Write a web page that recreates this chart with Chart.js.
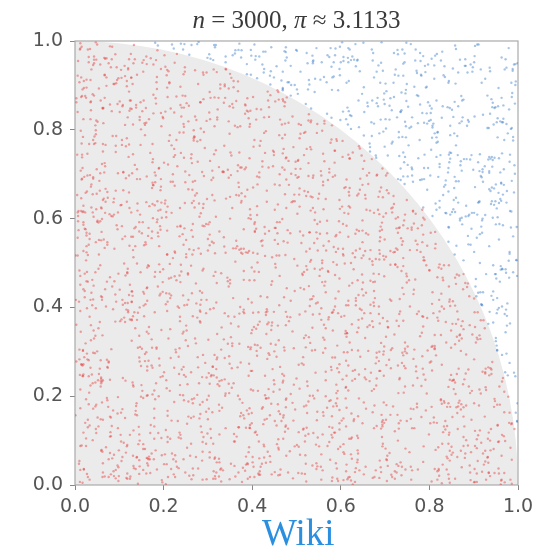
<!DOCTYPE html>
<html>
<head>
<meta charset="utf-8">
<script src="https://cdn.jsdelivr.net/npm/chart.js@4"></script>
<style>
  body { margin: 0; background: #fff; }
  .wrap { position: relative; width: 556px; height: 551px; }
  .wiki {
    position: absolute; left: 262px; top: 514px;
    font-family: "Liberation Serif", "DejaVu Serif", serif;
    font-size: 37px; line-height: 1; color: #2b8fe0;
  }
</style>
</head>
<body>
<div class="wrap">
  <canvas id="piChart" width="556" height="551"></canvas>
  <div class="wiki">Wiki</div>
</div>
<script>
// title values
const sampleCount = 3000;
const piEstimate = "3.1133";
const tickValues = [0, 0.2, 0.4, 0.6, 0.8, 1.0];

// sample positions (per mille). The 3000 single dots cannot be read one by one
// from the picture, so this is a hand-typed stand-in sample of the same size.
const xs = [
512,87,934,271,648,15,779,403,166,857,322,590,41,726,983,238,469,695,118,807,354,621,9,942,283,537,764,190,436,871,62,315,588,731,149,996,407,262,673,828,23,559,381,914,130,747,486,205,662,399,
873,146,508,27,791,364,639,952,218,475,704,83,326,869,587,11,440,760,195,931,652,300,527,68,816,273,999,414,141,689,555,238,917,36,479,722,167,803,392,608,954,247,71,535,680,124,846,361,593,19,
702,258,944,131,415,679,3,566,823,288,156,739,497,901,345,61,613,878,212,450,987,174,527,305,768,92,634,419,849,240,577,6,712,963,186,331,498,654,79,807,425,270,936,551,113,688,374,842,29,619,
248,905,473,60,736,391,152,858,604,17,520,783,341,969,226,681,438,97,812,535,276,48,749,398,625,910,165,507,872,234,13,657,444,789,312,581,946,107,395,728,253,86,620,463,898,179,541,816,35,702,
961,137,423,675,310,54,838,582,219,744,494,1,367,629,903,180,456,771,27,643,320,882,519,101,698,245,957,411,66,791,558,283,145,867,605,338,19,729,472,916,204,641,377,92,805,536,264,988,159,693,
431,778,56,314,862,597,199,715,468,32,950,278,584,820,113,409,675,249,991,155,523,782,363,70,637,897,214,453,844,127,566,301,748,45,939,485,187,620,356,810,26,695,431,262,901,576,140,728,392,653,
89,524,843,217,670,386,925,168,449,733,12,597,291,809,142,366,954,501,76,688,239,851,413,617,5,772,334,926,190,560,82,703,438,256,979,118,647,371,893,24,525,766,207,434,968,96,612,345,830,158,
582,275,730,48,913,405,126,667,359,892,542,14,786,229,617,460,969,104,338,756,592,41,872,283,675,181,507,945,63,425,807,251,632,117,386,998,571,223,745,39,480,859,306,614,143,960,279,517,797,88,
376,641,985,124,496,759,217,868,31,553,304,690,431,926,79,648,262,818,507,162,741,348,18,890,574,203,469,785,132,962,314,608,7,731,442,877,241,533,689,98,812,370,154,947,415,666,290,51,579,933,
170,803,467,23,651,289,918,547,108,394,764,236,975,600,53,459,722,315,871,166,625,994,39,708,273,533,855,410,120,688,340,963,502,227,784,63,617,362,907,191,476,746,14,580,834,257,402,697,135,921,
658,37,288,884,521,155,738,399,970,67,611,244,846,493,119,357,681,913,203,566,780,29,445,652,321,937,175,509,862,94,274,727,382,597,17,839,469,206,950,548,106,674,331,883,239,712,433,59,816,590,
204,946,558,79,703,352,915,141,487,632,12,804,271,559,986,116,423,763,246,690,50,388,875,520,174,737,297,944,463,85,639,350,818,211,592,31,761,459,905,146,676,384,17,528,869,224,651,305,983,113,
745,321,592,186,830,43,472,695,263,957,128,541,384,890,74,617,209,793,437,655,25,912,358,180,579,844,236,706,494,3,633,281,925,152,758,414,63,860,522,291,968,187,614,441,99,735,317,882,560,208,
429,877,15,640,262,981,507,133,716,394,852,56,297,611,769,182,469,933,103,349,590,828,41,672,258,515,899,146,735,371,963,214,489,800,11,627,338,909,167,552,702,276,459,1,845,380,617,935,124,686,
93,548,811,370,152,679,943,222,461,728,38,586,313,871,496,157,964,402,633,80,756,277,522,896,183,440,705,19,618,985,350,109,764,545,238,847,432,67,670,311,910,140,574,792,252,476,991,33,725,398,
617,183,453,919,67,738,290,521,847,131,406,957,244,682,20,569,823,338,105,712,480,256,941,620,59,381,790,173,544,873,316,627,84,455,968,232,761,397,127,606,853,43,509,282,695,934,161,428,770,57,
296,704,972,118,532,360,814,57,693,249,444,887,175,606,362,989,92,529,775,215,668,28,417,821,158,583,304,947,476,71,730,199,623,860,386,10,675,541,903,266,124,780,429,956,330,591,19,845,213,662,
855,46,362,597,783,215,504,940,89,671,317,751,12,487,840,284,621,166,910,394,54,735,572,208,986,449,115,692,340,819,573,237,903,42,458,691,145,788,315,964,504,69,630,219,877,397,741,175,526,96,
533,269,819,161,427,997,31,656,388,873,224,548,931,111,705,443,276,817,590,2,373,969,138,644,281,862,515,76,783,419,194,945,322,657,26,562,894,245,737,469,108,619,957,352,189,820,440,673,31,908,
130,760,408,681,25,566,829,197,474,740,359,37,617,901,262,548,713,94,382,962,183,495,828,63,603,336,759,151,928,513,268,693,7,860,412,125,583,974,296,724,47,455,876,208,613,321,989,154,705,437,
728,389,88,953,613,270,131,787,596,17,936,432,284,664,818,51,508,193,889,347,617,741,120,466,245,993,571,79,710,318,855,402,161,632,907,28,530,749,368,204,971,460,693,115,818,538,279,953,65,384,
47,615,926,336,180,858,472,703,213,40,597,353,971,149,760,424,881,66,555,236,797,326,649,5,481,901,158,745,282,630,984,115,367,805,528,214,655,87,919,400,747,19,581,246,867,147,496,732,304,998,
565,201,754,476,98,643,22,912,305,826,688,181,417,537,8,730,266,975,389,125,844,502,607,303,73,681,433,226,954,140,574,835,344,21,784,617,251,499,145,888,367,62,720,570,935,283,19,647,821,175,
843,316,67,721,396,977,248,545,116,447,794,64,636,330,937,192,563,802,28,412,673,154,920,264,788,547,36,860,406,190,712,477,59,943,285,596,138,823,478,320,685,208,958,72,430,858,545,121,766,256,
304,915,586,184,831,412,109,701,863,243,530,974,369,19,749,476,126,649,931,282,505,59,821,375,687,994,132,574,225,801,426,73,699,948,316,151,606,885,240,462,786,34,517,694,97,355,989,613,408,41,
679,140,455,901,266,36,625,345,758,514,93,881,191,429,670,318,974,556,238,82,733,457,188,626,907,47,347,812,561,209,976,420,146,666,328,779,6,540,866,119,686,297,843,455,232,781,12,641,909,350,
128,859,309,619,52,774,427,950,171,655,310,561,26,795,880,145,462,697,351,988,59,606,225,901,473,128,745,386,29,672,263,858,501,123,928,405,731,176,638,991,264,437,846,58,530,749,194,401,959,510,
411,702,161,46,948,598,266,813,379,16,706,245,843,476,108,620,932,393,177,515,833,44,286,660,745,137,927,368,582,809,27,474,253,944,699,184,385,572,76,831,657,304,117,916,460,239,588,998,135,787,
956,24,532,773,349,209,865,105,483,643,926,297,566,81,384,828,239,609,36,763,441,916,193,558,336,877,89,615,487,226,715,978,341,48,594,237,816,411,952,97,720,544,178,854,301,69,624,471,918,217,
687,468,237,829,584,129,418,681,994,325,147,772,457,903,234,547,61,717,350,951,602,22,474,131,853,290,687,531,961,8,410,744,154,625,271,877,492,33,741,198,591,963,369,807,627,117,458,763,40,577,
175,638,893,55,319,718,960,451,18,587,375,833,122,672,296,940,488,206,792,109,391,653,822,273,546,47,903,163,786,420,325,594,59,858,439,176,985,626,304,741,15,521,868,246,397,942,130,694,284,856,
833,357,10,594,753,231,560,869,144,696,235,500,980,419,61,758,371,136,605,887,264,530,72,964,429,795,201,618,338,105,739,495,922,271,830,54,652,113,423,794,566,280,986,91,716,347,531,173,850,406,
22,710,466,185,926,376,648,84,802,347,953,6,639,289,812,549,107,405,920,194,726,473,340,815,118,655,938,373,12,520,851,210,397,675,954,166,306,879,531,81,641,446,210,964,6,368,803,612,248,483,
599,283,981,378,132,507,40,745,263,904,491,182,671,863,304,33,594,880,251,742,419,163,982,585,42,313,697,877,148,563,231,789,63,449,917,298,598,729,48,876,394,164,557,731,280,887,53,665,451,131,
769,127,437,818,243,683,307,964,554,19,726,396,132,825,487,667,221,910,71,445,618,995,123,364,801,509,255,692,60,937,431,146,770,370,613,26,846,216,491,962,104,651,381,794,162,527,914,207,741,388,
246,895,57,618,950,88,772,209,437,850,122,634,954,251,579,43,784,330,492,675,189,758,563,315,16,891,208,481,745,974,358,114,666,245,860,451,595,127,729,320,13,695,843,587,27,404,689,955,177,612,
540,313,701,464,173,371,823,598,75,995,373,269,85,713,405,866,605,182,939,26,523,346,78,681,843,422,196,605,287,837,523,65,984,552,187,696,34,933,288,567,841,237,451,83,772,337,938,124,517,84,
920,167,392,3,834,546,218,29,706,311,561,805,469,139,966,27,326,741,643,260,806,137,902,470,748,33,560,921,390,160,677,258,858,33,406,816,288,502,972,184,629,448,989,70,597,858,180,442,779,325,
63,601,887,256,691,935,443,154,847,482,42,920,228,604,330,752,195,531,856,402,112,649,230,913,594,170,812,445,68,743,612,294,503,741,61,355,626,113,892,743,376,519,67,926,208,656,303,49,969,643,
349,751,524,148,462,72,637,986,268,641,782,163,516,40,897,433,687,288,92,584,975,383,743,40,326,949,686,99,527,889,13,471,221,786,411,938,245,687,20,443,163,817,620,300,789,516,101,726,865,14,
812,79,278,907,598,340,119,872,375,202,579,958,313,737,158,50,813,952,429,701,299,844,517,56,634,117,245,828,580,350,960,164,634,919,265,518,97,806,674,173,993,289,553,917,148,41,832,409,216,536,
193,957,483,32,680,823,224,536,761,12,348,669,840,98,488,611,266,107,775,146,537,18,687,380,805,255,416,729,139,486,847,742,224,53,697,395,964,122,468,716,352,81,649,229,986,462,751,591,153,300,
476,536,714,390,241,113,981,416,62,787,506,102,427,873,313,919,388,556,35,865,238,687,907,461,128,570,354,964,74,290,632,381,15,871,509,181,838,308,589,875,24,714,391,538,132,814,378,966,688,238,
723,201,846,634,952,435,69,657,297,940,175,839,690,234,563,25,711,468,196,638,397,87,324,826,560,761,25,449,918,169,702,86,569,450,315,799,537,235,739,29,459,972,268,147,698,16,578,107,393,827,
37,403,156,786,17,652,320,895,543,226,611,50,412,949,773,209,982,145,837,477,749,162,529,198,992,353,637,886,216,542,416,893,131,665,25,941,177,650,428,997,114,670,247,810,423,901,287,623,46,471,
888,623,288,475,836,174,574,799,104,456,877,340,16,638,98,587,349,671,252,19,938,505,47,667,274,861,145,313,505,849,255,967,372,589,128,722,328,58,873,212,556,395,844,604,61,312,722,865,254,946,
268,973,547,120,339,702,933,20,478,698,265,732,533,179,902,282,458,58,613,811,360,131,774,411,735,93,797,470,665,29,613,142,779,909,477,278,43,461,981,320,787,140,505,967,352,186,528,12,749,103,
589,49,827,694,215,395,623,358,883,161,947,35,394,823,443,661,826,162,906,435,696,236,581,935,321,475,999,221,41,746,438,185,831,287,684,527,196,921,660,451,154,846,73,729,469,634,970,376,612,452,
140,735,392,19,908,841,142,511,650,46,580,247,970,698,117,319,6,738,373,538,51,902,244,854,68,623,316,122,852,624,79,584,14,694,228,843,375,747,110,537,896,250,623,355,21,847,122,290,864,188,
950,328,165,522,763,268,59,768,230,849,401,123,806,361,569,883,213,980,520,271,786,447,163,720,375,198,542,709,268,399,947,333,512,136,874,61,491,943,225,617,326,46,765,198,914,493,796,67,426,782,
406,844,676,298,122,562,955,399,7,710,293,662,53,498,737,134,434,804,73,667,158,364,606,9,895,639,941,10,568,179,746,874,253,606,959,133,744,18,409,677,480,980,36,434,684,558,207,717,35,606,
92,185,478,869,581,11,688,176,937,587,826,474,193,935,23,610,877,405,190,956,528,833,284,476,128,820,427,276,784,498,83,637,452,181,786,402,573,902,347,64,734,206,891,579,150,369,954,532,302,888,
714,599,35,735,393,805,312,849,118,431,35,765,283,642,847,369,551,237,640,336,106,17,962,755,392,43,703,587,193,934,310,229,966,795,57,365,685,277,565,788,171,640,845,266,977,88,627,249,751,155,
325,966,223,415,63,648,462,26,581,986,640,205,902,156,422,739,101,883,451,722,851,608,134,553,885,267,140,503,866,62,637,458,814,105,522,870,206,12,940,463,813,337,597,10,538,719,449,868,76,517,
560,76,761,973,195,925,145,724,308,659,258,577,355,741,60,979,312,526,913,43,389,299,772,225,48,691,521,319,649,357,892,162,396,707,236,615,982,441,179,822,223,473,95,704,417,192,854,302,644,927,
31,882,537,296,843,390,699,501,865,159,921,96,800,433,302,558,686,81,205,608,731,482,928,58,397,776,836,195,923,587,26,766,672,339,58,916,287,719,653,31,957,547,369,833,120,961,326,603,194,371,
857,416,111,612,732,20,256,944,47,395,723,496,54,863,569,188,861,250,460,965,574,10,411,679,522,128,283,981,46,729,211,477,136,853,545,400,106,843,474,246,616,748,167,935,292,556,15,719,470,844,
470,209,696,41,907,563,477,170,691,807,163,620,243,992,12,423,932,675,340,162,795,249,846,588,177,914,63,434,769,361,942,580,318,73,698,463,836,209,525,381,879,129,505,755,405,79,640,160,934,91,
185,733,863,332,524,149,881,632,386,96,864,334,517,179,746,647,37,772,107,592,453,911,91,306,731,413,616,860,218,665,3,427,836,591,165,774,14,556,953,138,681,22,857,307,68,784,368,580,263,691
];
const ys = [
274,903,118,652,441,987,335,762,58,519,846,207,693,370,12,584,931,146,477,809,263,625,48,717,390,954,171,538,866,302,75,641,420,783,199,507,958,93,356,827,614,33,482,745,231,890,567,124,678,411,
819,42,571,296,930,653,106,387,765,518,9,842,234,600,473,981,157,715,349,62,896,528,188,441,783,319,950,26,634,257,707,113,582,864,379,14,493,822,246,669,135,578,918,303,737,451,55,972,212,616,
147,698,366,812,23,509,871,255,640,97,431,784,170,952,318,599,46,734,465,227,883,571,115,396,956,663,38,309,748,481,191,840,527,66,979,355,712,242,468,805,137,625,390,87,921,549,276,704,18,449,
635,321,977,79,556,841,212,467,739,5,391,688,936,164,523,287,851,614,36,419,774,181,903,342,59,636,495,217,876,107,708,433,24,598,957,287,668,171,813,530,84,396,735,266,941,151,487,620,862,334,
485,36,729,403,164,893,612,348,71,952,226,517,806,144,671,389,92,933,480,758,283,605,25,864,140,541,399,695,962,237,457,777,56,325,588,898,118,689,423,206,841,572,7,764,311,648,193,937,407,108,
50,777,262,991,334,125,486,844,599,208,677,37,920,370,560,823,128,706,253,404,973,153,533,85,652,339,788,490,14,917,200,587,865,297,633,76,447,736,968,141,524,376,797,254,613,57,924,491,160,730,
903,162,548,427,786,64,353,628,918,241,471,139,696,814,3,538,395,978,276,661,105,845,212,559,744,385,33,915,497,164,606,270,829,417,984,90,742,318,541,658,223,897,47,391,711,576,132,459,853,295,
389,657,43,821,215,588,971,406,115,733,304,874,52,461,611,166,777,935,286,529,14,690,358,862,437,193,627,81,751,976,313,552,239,898,129,471,687,24,818,405,574,205,960,342,92,704,533,177,947,609,
715,249,906,373,639,12,467,190,952,566,74,823,389,608,237,881,494,31,668,345,922,207,784,425,97,634,869,262,513,10,745,381,606,139,932,475,260,821,558,40,306,671,931,194,480,751,108,595,827,363,
27,568,812,140,996,293,693,555,241,807,430,118,662,952,353,22,525,808,170,579,304,901,462,657,63,756,216,847,389,521,952,12,692,305,838,147,415,979,557,269,736,82,617,388,185,854,523,301,959,71,
620,433,75,734,310,866,541,162,385,923,671,202,5,761,487,850,298,639,69,434,955,147,513,787,340,20,681,931,250,585,409,828,150,465,714,35,892,603,324,107,777,476,236,629,994,158,396,551,866,226,
942,176,506,857,58,698,329,618,877,29,451,278,934,114,685,395,551,224,807,40,593,948,369,111,669,844,242,495,23,786,155,649,377,932,263,541,711,103,464,829,18,650,269,912,596,187,427,730,84,367,
301,823,195,639,467,965,246,93,574,736,413,885,32,609,264,952,167,495,715,331,88,637,910,469,259,580,794,43,308,862,566,150,718,951,41,389,236,647,493,795,110,568,342,902,78,687,480,251,746,519,
516,88,688,372,151,521,781,991,308,461,153,663,820,347,550,78,894,265,630,13,779,402,172,956,531,288,710,100,841,386,963,212,637,484,7,749,902,328,64,471,612,203,885,157,727,390,984,538,113,279,
786,411,945,130,842,274,602,58,405,980,249,726,545,77,437,815,293,670,993,119,402,728,526,212,859,65,369,592,910,137,454,704,284,36,856,609,195,534,981,267,433,63,712,895,348,175,659,12,533,967,
213,957,316,596,725,41,869,337,788,225,572,98,427,699,910,174,625,387,54,871,546,188,739,18,625,462,944,328,91,708,522,257,987,134,676,402,828,215,559,955,73,330,791,437,648,27,816,581,256,702,
93,664,486,26,817,379,543,947,142,682,359,822,264,150,503,784,34,569,876,421,253,697,31,490,811,177,592,737,360,961,207,826,69,453,715,283,918,597,122,380,866,525,202,658,8,775,441,118,907,564,
642,336,19,937,585,104,732,250,459,866,14,578,392,944,176,612,833,280,727,129,519,840,373,935,57,236,691,158,523,795,378,624,88,449,182,951,571,714,293,817,27,667,148,992,506,257,370,633,891,44,
848,195,773,299,62,506,182,645,925,330,757,213,877,499,66,349,993,140,563,417,715,27,856,289,604,474,125,950,343,41,689,812,227,567,913,361,74,794,482,231,856,104,635,364,713,85,922,457,281,609,
426,575,120,697,872,236,976,6,789,549,98,677,405,184,736,528,263,941,387,640,229,509,183,642,997,328,807,567,12,476,154,591,955,363,677,19,502,813,165,600,398,943,227,519,174,828,560,34,702,297,
158,871,645,421,334,784,529,87,254,615,940,340,132,703,468,818,68,575,222,893,17,749,393,911,266,701,482,72,854,604,237,388,965,513,26,746,201,456,887,641,99,326,575,763,12,425,998,304,645,836,
997,299,53,558,704,14,310,887,431,101,642,917,254,801,580,175,455,704,41,308,862,571,139,653,28,420,788,222,369,958,580,73,707,176,835,498,653,31,405,257,783,527,918,191,472,689,87,385,564,143,
308,726,461,192,916,665,423,179,824,338,55,480,764,201,617,922,37,381,665,848,113,494,299,970,547,240,663,18,826,372,131,919,467,288,620,744,359,980,114,542,265,849,633,88,707,160,824,511,33,727,
581,62,872,339,608,247,931,569,16,753,206,849,575,305,932,480,729,139,283,521,973,81,705,432,816,165,360,982,592,285,496,66,239,861,417,594,178,723,963,51,649,392,222,458,976,615,49,739,305,154,
62,434,753,907,119,501,664,82,391,877,532,296,28,629,144,390,866,547,804,181,694,425,36,532,257,948,123,704,470,854,91,660,553,189,986,307,74,446,830,215,564,982,331,136,702,858,479,246,966,418,
742,157,289,6,683,844,362,710,149,473,905,71,427,748,212,991,636,69,457,306,580,889,618,235,103,799,447,338,621,97,409,846,278,761,35,687,922,545,262,828,385,13,661,517,144,924,215,763,389,600,
371,904,548,652,236,35,793,475,961,261,708,156,895,539,61,336,592,186,749,933,242,11,674,525,853,373,609,46,981,164,745,317,891,624,214,481,127,601,78,947,725,196,418,866,569,297,672,51,458,811,
113,697,26,810,475,923,184,570,39,690,356,813,221,975,406,669,104,273,947,562,397,785,119,861,321,581,220,909,694,387,25,862,138,436,762,310,855,480,18,653,238,540,910,371,80,496,983,144,721,249,
894,319,618,241,791,156,636,373,907,532,77,417,644,110,857,4,748,499,326,683,52,936,243,488,705,175,532,850,415,67,769,199,645,958,532,225,739,291,817,128,973,409,58,621,327,766,161,549,906,36,
529,781,379,93,952,436,23,860,245,716,311,928,567,356,38,813,186,625,926,465,145,577,814,66,938,633,300,761,1,574,302,972,435,107,685,868,15,379,695,245,496,872,130,434,1,781,359,618,229,984,
204,57,947,685,411,177,819,579,302,118,963,495,767,16,588,260,901,432,168,705,311,840,21,454,793,126,989,258,625,549,181,889,77,404,293,734,616,965,228,493,769,48,337,850,599,277,903,132,521,792,
672,533,305,9,765,582,298,958,131,604,399,240,846,425,723,172,994,353,532,89,635,403,196,747,566,376,47,842,238,917,444,654,371,830,46,552,186,410,717,897,353,634,139,970,18,692,418,556,86,316,
437,823,144,892,251,979,474,60,697,819,181,557,71,929,308,645,417,777,255,838,47,710,965,292,14,527,662,401,88,795,615,18,924,216,603,341,872,132,503,24,806,261,722,487,614,201,838,405,941,676,
86,366,728,521,43,384,655,739,13,447,830,697,369,162,885,566,81,944,513,208,775,490,364,118,604,936,246,154,862,327,718,506,49,743,407,192,987,269,621,441,736,60,952,579,229,454,132,769,29,559,
981,614,216,794,341,872,106,233,913,586,28,306,950,743,205,460,683,112,899,366,628,163,843,550,276,712,474,997,570,100,383,822,267,652,906,538,77,848,346,681,163,517,395,837,61,725,500,923,292,168,
737,147,495,660,587,20,529,874,366,68,697,421,134,520,778,950,290,37,639,814,200,993,449,59,738,360,895,127,307,940,229,472,618,58,765,144,436,918,603,242,798,933,24,287,661,356,906,97,675,824,
195,471,904,35,269,749,391,622,176,909,155,785,605,304,18,684,520,871,126,459,757,380,610,931,184,48,602,841,433,686,129,553,802,385,990,294,698,50,187,528,851,369,620,133,878,537,263,14,793,447,
600,824,74,361,943,146,613,458,742,266,539,8,889,184,654,398,223,585,932,66,408,167,830,235,996,554,332,683,14,849,421,969,231,134,570,771,12,611,959,307,486,210,776,402,169,990,630,318,857,59,
28,379,561,819,127,703,986,92,403,816,348,711,53,775,477,852,106,320,669,213,944,573,41,707,387,117,792,459,960,596,31,275,881,511,233,624,455,811,28,727,640,98,924,254,573,41,839,711,210,397,
853,695,233,479,675,282,51,804,529,195,922,445,271,614,931,149,792,483,15,536,359,711,268,880,114,639,475,20,696,818,345,157,700,379,916,78,345,508,894,183,415,971,321,554,744,127,440,578,929,272,
313,109,903,7,569,937,410,182,636,968,113,588,398,884,81,301,967,623,246,824,116,495,743,367,528,87,925,271,810,462,644,202,943,30,519,662,198,782,411,71,859,624,485,95,766,298,923,352,683,44,
664,553,369,768,224,497,839,354,697,34,290,817,133,476,701,219,559,63,736,400,950,245,610,157,848,313,693,568,62,378,809,430,264,591,868,128,402,959,250,614,333,152,676,875,3,471,721,37,592,148,
134,967,623,47,850,151,275,704,18,513,654,369,937,40,247,568,843,398,912,177,582,16,332,788,436,968,219,113,647,924,259,532,89,729,444,996,321,687,184,828,576,23,419,956,222,634,185,817,364,897,
497,254,749,415,314,886,638,172,929,426,768,64,582,289,820,193,418,715,67,958,310,637,872,193,675,33,506,750,406,58,803,168,567,301,873,114,624,250,981,518,84,344,799,609,470,876,266,554,85,431,
936,41,380,602,891,24,455,577,253,743,195,992,315,851,542,108,744,25,367,624,470,201,902,457,126,742,344,929,286,614,965,11,745,360,105,670,837,456,147,581,235,734,993,152,539,283,705,10,479,757,
260,802,584,131,676,309,964,820,98,592,351,128,744,461,9,697,273,504,860,249,735,86,547,387,822,175,592,31,813,248,477,855,193,525,412,31,893,222,602,775,372,18,910,238,417,692,121,853,227,631,
776,395,42,939,201,514,733,36,443,882,665,238,507,104,966,393,632,148,584,915,43,380,815,628,51,413,714,865,234,130,688,309,973,54,738,265,958,517,163,930,506,711,271,825,48,598,333,983,642,113,
49,656,487,713,351,621,104,896,294,637,27,824,173,716,451,853,191,948,425,75,796,560,129,666,287,956,184,511,777,35,572,919,461,243,620,821,11,434,356,677,196,849,541,100,747,405,6,657,280,864,
689,145,826,272,992,60,388,545,712,177,890,405,936,312,638,28,517,275,808,697,152,389,981,236,718,500,20,659,363,831,154,394,646,87,299,714,523,808,95,384,613,244,957,319,694,176,886,487,743,560,
331,902,561,8,616,781,229,463,971,348,63,539,258,809,595,179,905,467,67,330,966,718,49,874,162,435,915,282,640,490,849,705,26,538,866,423,185,732,951,269,51,770,440,829,565,145,303,19,929,223,
118,447,179,644,428,919,853,139,594,72,759,302,487,698,22,578,423,755,191,529,279,865,517,413,743,303,639,54,907,172,263,587,406,964,181,38,678,304,577,458,907,140,672,284,853,500,218,773,417,92,
750,35,873,339,107,248,572,676,836,402,956,120,620,247,876,341,108,992,714,37,448,132,803,986,325,694,87,377,547,728,959,111,498,682,357,874,549,7,228,815,391,615,44,942,225,357,783,650,172,606,
415,822,264,713,527,960,14,309,479,195,224,589,862,33,735,980,656,203,428,861,583,246,679,74,601,877,180,968,431,28,653,777,241,814,594,109,945,288,458,689,135,866,413,588,792,68,522,876,312,957,
19,585,983,98,848,375,700,562,17,874,656,407,36,540,172,298,840,101,552,924,235,70,389,593,809,22,499,730,185,337,956,543,79,631,179,720,236,995,869,160,533,764,272,483,117,651,390,815,58,480,
683,278,128,478,636,154,287,936,248,697,21,771,313,949,623,505,93,660,337,768,49,962,183,526,117,670,858,261,596,421,207,695,843,355,472,13,617,878,132,417,739,303,912,56,368,583,829,201,690,262,
245,944,692,387,906,523,858,90,373,547,834,161,483,638,252,798,402,941,2,613,358,730,475,281,980,391,144,808,46,753,568,128,496,872,234,696,55,524,387,964,26,588,681,189,936,493,167,627,937,530,
863,60,377,221,741,35,666,417,790,135,496,901,250,63,836,117,539,326,868,486,189,907,608,33,651,847,406,525,231,970,330,688,159,414,984,349,766,93,655,248,812,476,356,739,583,12,271,906,104,744,
152,627,516,946,83,814,195,748,320,606,267,981,565,720,173,947,63,613,206,443,665,28,237,560,879,123,768,362,611,98,851,9,754,266,508,823,125,413,950,576,238,702,119,804,461,988,354,542,804,368,
592,419,786,174,485,268,959,7,524,858,126,706,441,213,882,394,625,175,853,314,579,992,429,126,795,361,962,684,145,509,278,828,613,178,44,578,918,697,303,850,133,476,694,245,613,380,720,155,991,29,
328,752,30,669,913,407,123,616,884,251,562,343,15,785,529,69,924,266,711,81,458,239,755,624,42,516,318,891,153,761,450,57,962,349,691,221,847,405,120,974,563,287,837,79,513,935,461,675,290,816
];

const pointsIn = [];
const pointsOut = [];
xs.forEach(function (v, i) {
  const p = { x: v / 1000, y: ys[i] / 1000 };
  if (p.x * p.x + p.y * p.y <= 1) pointsIn.push(p);
  else pointsOut.push(p);
});

// grey quarter disc + frame, drawn from the scales
const quarterDisc = {
  id: "quarterDisc",
  beforeDatasetsDraw(chart) {
    const { ctx, chartArea, scales } = chart;
    const cx = scales.x.getPixelForValue(0);
    const cy = scales.y.getPixelForValue(0);
    const rx = scales.x.getPixelForValue(1) - cx;
    const ry = cy - scales.y.getPixelForValue(1);
    ctx.save();
    ctx.beginPath();
    ctx.moveTo(cx, cy);
    ctx.ellipse(cx, cy, rx, ry, 0, -Math.PI / 2, 0);
    ctx.closePath();
    ctx.fillStyle = "#ebebeb";
    ctx.fill();
    ctx.strokeStyle = "#aaaaaa";
    ctx.lineWidth = 1.2;
    ctx.strokeRect(chartArea.left, chartArea.top, chartArea.right - chartArea.left, chartArea.bottom - chartArea.top);
    ctx.restore();
  },
};

// title with italic n and pi
const mathTitle = {
  id: "mathTitle",
  afterDraw(chart) {
    const { ctx, chartArea } = chart;
    const parts = [
      ["n", "italic"],
      [" = " + sampleCount + ", ", "normal"],
      ["π", "italic"],
      [" ≈ " + piEstimate, "normal"],
    ];
    ctx.save();
    ctx.fillStyle = "#3a3a3a";
    ctx.textBaseline = "alphabetic";
    let total = 0;
    parts.forEach(function (p) {
      ctx.font = p[1] + ' 25px "Liberation Serif", "DejaVu Serif", serif';
      total += ctx.measureText(p[0]).width;
    });
    let x = (chartArea.left + chartArea.right) / 2 - total / 2;
    parts.forEach(function (p) {
      ctx.font = p[1] + ' 25px "Liberation Serif", "DejaVu Serif", serif';
      ctx.fillText(p[0], x, 28);
      x += ctx.measureText(p[0]).width;
    });
    ctx.restore();
  },
};

const tickFont = { family: "DejaVu Sans", size: 19 };

new Chart(document.getElementById("piChart"), {
  type: "scatter",
  data: {
    datasets: [
      {
        data: pointsIn,
        backgroundColor: "rgba(228, 60, 60, 0.45)",
        borderWidth: 0,
        pointRadius: 1.2,
      },
      {
        data: pointsOut,
        backgroundColor: "rgba(60, 125, 200, 0.45)",
        borderWidth: 0,
        pointRadius: 1.2,
      },
    ],
  },
  options: {
    responsive: false,
    animation: false,
    layout: { padding: { top: 41, right: 38, left: 0, bottom: 0 } },
    plugins: { legend: { display: false }, tooltip: { enabled: false } },
    scales: {
      x: {
        type: "linear",
        min: 0,
        max: 1,
        afterFit(scale) { scale.height = 66; },
        afterBuildTicks(scale) { scale.ticks = tickValues.map(function (v) { return { value: v }; }); },
        ticks: {
          font: tickFont,
          color: "#555",
          padding: 6,
          callback: function (v) { return v.toFixed(1); },
        },
        grid: { drawOnChartArea: false, drawTicks: true, tickLength: 5, color: "#888" },
        border: { display: false },
      },
      y: {
        type: "linear",
        min: 0,
        max: 1,
        afterFit(scale) { scale.width = 75; },
        afterBuildTicks(scale) { scale.ticks = tickValues.map(function (v) { return { value: v }; }); },
        ticks: {
          font: tickFont,
          color: "#555",
          padding: 7,
          callback: function (v) { return v.toFixed(1); },
        },
        grid: { drawOnChartArea: false, drawTicks: true, tickLength: 5, color: "#888" },
        border: { display: false },
      },
    },
  },
  plugins: [quarterDisc, mathTitle],
});
</script>
</body>
</html>
